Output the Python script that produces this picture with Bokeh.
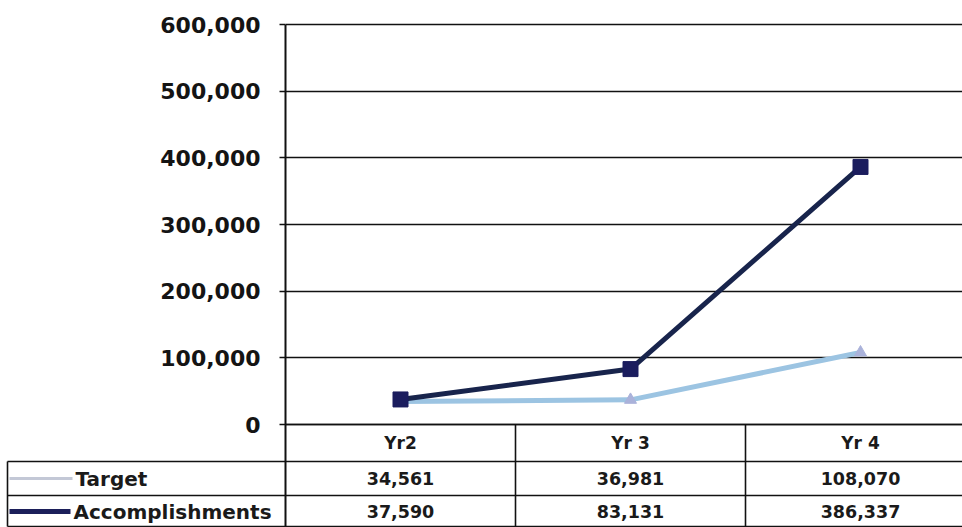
from bokeh.plotting import figure
from bokeh.models import Range1d, FixedTicker, LinearAxis, NumeralTickFormatter, Grid
from bokeh.embed import file_html
from bokeh.resources import INLINE
from bokeh.core.properties import value

# ---- data ----
categories = ["Yr2", "Yr 3", "Yr 4"]
series_names = ["Target", "Accomplishments"]
target = [34561, 36981, 108070]
accomplishments = [37590, 83131, 386337]
y_ticks = [0, 100000, 200000, 300000, 400000, 500000, 600000]

# ---- layout constants (pixels) ----
W, H = 962, 527
LEFT = 285          # left border (axis + row-label column)
TOP = 22
COL_PX = 230        # width of one category column
ZERO_PX = 400       # px from 600,000 line to 0 line
ROW_H = [37, 34, 32]  # header, target, accomplishments rows

frame_w = W - LEFT
frame_h = H - TOP
ymax = y_ticks[-1]
upp = ymax / ZERO_PX
y_end = ymax + 2 * upp
y_start = y_end - frame_h * upp


def X(px):
    """figure pixel column -> x data units"""
    return (px - LEFT) / COL_PX


def Y(px_below_zero):
    """pixels below the zero line -> y data units"""
    return -px_below_zero * upp


FONT = value("DejaVu Sans")

p = figure(width=W, height=H,
           x_range=Range1d(0, frame_w / COL_PX),
           y_range=Range1d(y_start, y_end),
           output_backend="svg", toolbar_location=None,
           x_axis_location=None, y_axis_location=None,
           min_border_left=LEFT, min_border_right=0,
           min_border_top=TOP, min_border_bottom=0)
p.outline_line_color = None
p.background_fill_color = "white"
p.border_fill_color = "white"
for g in p.select(type=Grid):
    g.visible = False

grid = Grid(dimension=1, ticker=FixedTicker(ticks=y_ticks),
            grid_line_color="#111111", grid_line_width=1.6)
p.add_layout(grid)

yaxis = LinearAxis(ticker=FixedTicker(ticks=y_ticks),
                   formatter=NumeralTickFormatter(format="0,0"),
                   bounds=(y_start, ymax),
                   axis_line_width=2, axis_line_color="#111111",
                   major_tick_out=6, major_tick_in=0,
                   major_tick_line_width=1.5, major_tick_line_color="#111111",
                   minor_tick_line_color=None,
                   major_label_text_font="DejaVu Sans",
                   major_label_text_font_style="bold",
                   major_label_text_font_size="22px",
                   major_label_text_color="#141414",
                   major_label_standoff=19)
p.add_layout(yaxis, "left")

# ---- series ----
xs = [i + 0.5 for i in range(len(categories))]
p.line(xs, target, line_color="#9cc4e2", line_width=5)
p.scatter(xs, target, marker="triangle", size=12, fill_color="#aab2da",
          line_color="#aab2da")
p.line(xs, accomplishments, line_color="#18244c", line_width=5)
p.scatter(xs, accomplishments, marker="square", size=15, fill_color="#1b1d5e",
          line_color="#1b1d5e")

# ---- data table ----
r0 = 0
r1 = ROW_H[0]
r2 = r1 + ROW_H[1]
r3 = r2 + ROW_H[2] - 1
LINE = "#111111"
x_right = frame_w / COL_PX
# horizontal lines
p.segment(x0=[0, X(7), X(7), X(7)], y0=[Y(r0), Y(r1), Y(r2), Y(r3)],
          x1=[x_right] * 4, y1=[Y(r0), Y(r1), Y(r2), Y(r3)],
          line_color=LINE, line_width=1.6, level="overlay")
# vertical lines
col_edges = [float(i) for i in range(1, len(categories))]
p.segment(x0=col_edges + [X(7)], y0=[Y(r0)] * len(col_edges) + [Y(r1)],
          x1=col_edges + [X(7)], y1=[Y(r3)] * (len(col_edges) + 1),
          line_color=LINE, line_width=1.6, level="overlay")

# header + values
p.text(xs, [Y(r0 + ROW_H[0] / 2)] * 3, text=categories, text_font=FONT,
       text_font_style="bold", text_font_size="17px", text_align="center",
       text_baseline="middle", text_color="#1a1a1a")
p.text(xs, [Y(r1 + ROW_H[1] / 2)] * 3, text=[f"{v:,}" for v in target],
       text_font=FONT, text_font_style="bold", text_font_size="17.5px",
       text_align="center", text_baseline="middle", text_color="#1a1a1a")
p.text(xs, [Y(r2 + ROW_H[2] / 2)] * 3, text=[f"{v:,}" for v in accomplishments],
       text_font=FONT, text_font_style="bold", text_font_size="17.5px",
       text_align="center", text_baseline="middle", text_color="#1a1a1a")

# row labels with legend keys
row_y = [Y(r1 + ROW_H[1] / 2), Y(r2 + ROW_H[2] / 2)]
p.text([X(75), X(73)], row_y, text=series_names, text_font=FONT,
       text_font_style="bold", text_font_size="20px", text_align="left",
       text_baseline="middle", text_color="#1a1a1a", level="overlay")
p.segment(x0=[X(9)], y0=[row_y[0]], x1=[X(72)], y1=[row_y[0]],
          line_color="#c3c8d6", line_width=3, level="overlay")
p.scatter([X(41)], [row_y[0]], marker="triangle", size=8,
          fill_color="#c0c5d8", line_color="#c0c5d8", level="overlay")
p.segment(x0=[X(9)], y0=[row_y[1]], x1=[X(70)], y1=[row_y[1]],
          line_color="#1c1f5a", line_width=5, level="overlay")
p.scatter([X(40)], [row_y[1]], marker="square", size=11,
          fill_color="#1b1d5e", line_color="#1b1d5e", level="overlay")

open("out.html", "w").write(file_html(p, INLINE))
